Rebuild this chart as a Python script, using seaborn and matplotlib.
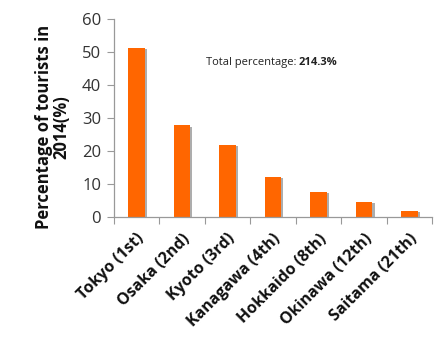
import matplotlib
matplotlib.use("Agg")
import matplotlib.pyplot as plt
import matplotlib.patheffects as pe
import matplotlib.transforms as mtransforms
import seaborn as sns
import pandas as pd

# Prefecture ranking by share of foreign tourists visiting, 2014
prefectures = ["Tokyo (1st)", "Osaka (2nd)", "Kyoto (3rd)", "Kanagawa (4th)",
               "Hokkaido (8th)", "Okinawa (12th)", "Saitama (21th)"]
shares = [51.3, 27.8, 21.9, 12.2, 7.6, 4.5, 1.8]
y_ticks = [0, 10, 20, 30, 40, 50, 60]
total_label = "214.3%"

sns.set_theme(style="white")
plt.rcParams["font.family"] = ["Open Sans", "DejaVu Sans"]

df = pd.DataFrame({"prefecture": prefectures, "share": shares})

fig = plt.figure(figsize=(4.34, 3.40), dpi=100)
ax = fig.add_axes([0.262, 0.362, 0.734, 0.582])

sns.barplot(data=df, x="prefecture", y="share", color="#FF6600",
            saturation=1, width=0.37, ax=ax)
for bar in ax.patches:
    bar.set_edgecolor("none")
    bar.set_path_effects([pe.SimplePatchShadow(offset=(1.5, -1), shadow_rgbFace="#999999", alpha=0.8),
                          pe.Normal()])

ax.set_xlim(-0.5, len(prefectures) - 0.5)
ax.set_ylim(0, 60)
ax.set_yticks(y_ticks)
ax.set_yticklabels([str(t) for t in y_ticks], fontsize=12, color="#333333")

# x-axis: tick marks between categories, labels at the centres
ax.set_xticks(range(len(prefectures)))
ax.set_xticklabels(prefectures, rotation=45, ha="right", rotation_mode="anchor",
                   fontsize=11.5, fontweight="bold", color="#111111")
shift = mtransforms.ScaledTranslation(-3 / 100, -4 / 100, fig.dpi_scale_trans)
for lbl in ax.get_xticklabels():
    lbl.set_transform(lbl.get_transform() + shift)
ax.set_xticks([i - 0.5 for i in range(len(prefectures) + 1)], minor=True)
ax.tick_params(axis="x", which="major", length=0, pad=10)
ax.tick_params(axis="x", which="minor", length=5, width=0.8, color="#999999", direction="out", bottom=True)
ax.tick_params(axis="y", length=5, width=0.8, color="#999999", direction="out", left=True, pad=4)

ax.set_xlabel("")
ax.set_ylabel("Percentage of tourists in\n2014(%)", fontsize=12, fontweight="bold",
              color="#111111", linespacing=1.0)
ax.yaxis.set_label_coords(-0.135, 0.455)

for side in ("top", "right"):
    ax.spines[side].set_visible(False)
for side in ("left", "bottom"):
    ax.spines[side].set_color("#999999")
    ax.spines[side].set_linewidth(0.9)

t1 = ax.text(1.52, 46.7, "Total percentage: ", fontsize=8, color="#222222",
             ha="left", va="center")
ax.annotate(total_label, xy=(1, 0.5), xycoords=t1, fontsize=8, fontweight="bold",
            color="#222222", ha="left", va="center")

fig.savefig("out.png", dpi=100, facecolor="white")
